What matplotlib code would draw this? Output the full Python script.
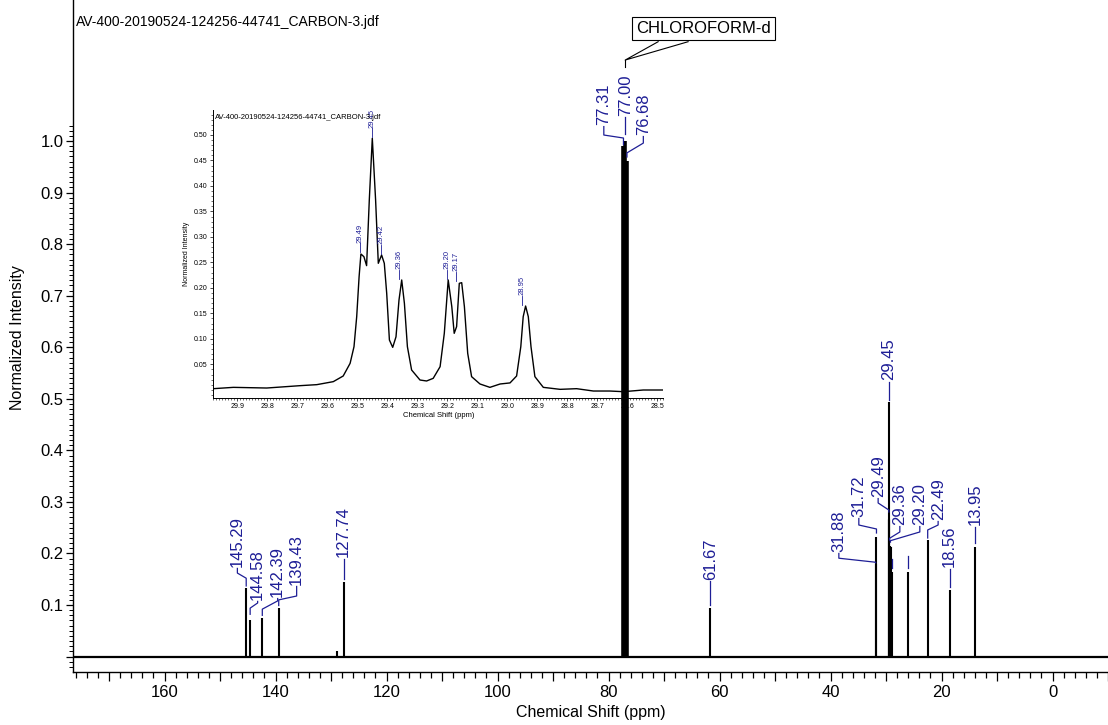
import matplotlib
matplotlib.use('Agg')
import matplotlib.pyplot as plt
import numpy as np
from matplotlib.ticker import MultipleLocator, FixedLocator, FuncFormatter

plt.rcParams['font.family'] = ['Liberation Sans', 'DejaVu Sans']

# ---------------- data ----------------
title = "AV-400-20190524-124256-44741_CARBON-3.jdf"
solvent_name = "CHLOROFORM-d"

# main 13C peaks (ppm, normalized intensity)
main_ppm = [145.29, 144.58, 142.39, 139.43, 128.90, 127.74, 61.67, 31.88, 31.72,
            29.49, 29.45, 29.42, 29.36, 29.20, 29.17, 28.95, 26.02, 22.49, 18.56, 13.95]
main_int = [0.133, 0.071, 0.075, 0.094, 0.010, 0.145, 0.095, 0.180, 0.232,
            0.267, 0.493, 0.264, 0.215, 0.215, 0.212, 0.165, 0.165, 0.226, 0.129, 0.213]

# solvent triplet
solvent_ppm = [77.31, 77.00, 76.68]
solvent_int = [0.990, 1.000, 0.962]

# inset trace (read from the zoomed region 29.98 - 28.48 ppm)
inset_ppm = [29.980, 29.913, 29.802, 29.691, 29.635, 29.580, 29.547, 29.524, 29.511, 29.502,
             29.494, 29.488, 29.478, 29.469, 29.460, 29.450, 29.439, 29.430, 29.419, 29.410,
             29.402, 29.393, 29.382, 29.371, 29.361, 29.352, 29.343, 29.333, 29.319, 29.291,
             29.269, 29.247, 29.224, 29.210, 29.197, 29.185, 29.177, 29.169, 29.160, 29.152,
             29.143, 29.132, 29.119, 29.091, 29.058, 29.024, 28.991, 28.969, 28.955, 28.947,
             28.939, 28.930, 28.921, 28.908, 28.880, 28.824, 28.769, 28.713, 28.658, 28.613,
             28.547, 28.480]
inset_int = [0.0022, 0.0048, 0.0035, 0.0081, 0.0101, 0.0160, 0.0271, 0.0519, 0.0846, 0.1435,
             0.2220, 0.2665, 0.2612, 0.2436, 0.3725, 0.4935, 0.3725, 0.2482, 0.2645, 0.2482,
             0.1893, 0.0977, 0.0833, 0.1040, 0.1762, 0.2155, 0.1697, 0.0846, 0.0389, 0.0192,
             0.0173, 0.0225, 0.0454, 0.1108, 0.2155, 0.1631, 0.1108, 0.1239, 0.2089, 0.2102,
             0.1631, 0.0716, 0.0258, 0.0114, 0.0048, 0.0114, 0.0135, 0.0271, 0.0846, 0.1435,
             0.1644, 0.1435, 0.0846, 0.0258, 0.0048, 0.0009, 0.0022, -0.0024, -0.0024, -0.0037,
             -0.0004, -0.0004]

inset_peak_ppm = [29.49, 29.45, 29.42, 29.36, 29.20, 29.17, 28.95]
inset_peak_int = [0.268, 0.4935, 0.2645, 0.2155, 0.2155, 0.212, 0.1645]

# label layout for main peaks: ppm -> (label_x, leader_start, kink_low, kink_high, text_bottom)
main_labels = {
    145.29: (146.88, 0.137, 0.152, 0.162, 0.174),
    144.58: (143.23, 0.082, 0.094, 0.104, 0.110),
    142.39: (139.62, 0.080, 0.092, 0.108, 0.1156),
    139.43: (136.20, 0.099, 0.110, 0.1175, 0.139),
    127.74: (127.74, 0.151, 0.151, 0.151, 0.193),
    77.31: (80.85, 0.993, 1.0058, 1.0116, 1.031),
    77.00: (77.00, 1.013, 1.013, 1.013, 1.049),
    76.68: (73.73, 0.969, 0.977, 0.996, 1.0117),
    61.67: (61.67, 0.100, 0.100, 0.100, 0.149),
    31.88: (38.50, 0.182, 0.183, 0.1908, 0.203),
    31.72: (34.90, 0.2397, 0.2475, 0.2552, 0.2708),
    29.49: (31.42, 0.2804, 0.2843, 0.2979, 0.3095),
    29.45: (29.45, 0.4977, 0.4977, 0.4977, 0.5365),
    29.36: (27.51, 0.226, 0.2294, 0.2417, 0.2552),
    29.20: (23.91, 0.222, 0.2248, 0.2417, 0.2552),
    22.49: (20.61, 0.230, 0.2456, 0.2552, 0.265),
    18.56: (18.56, 0.135, 0.135, 0.135, 0.1738),
    13.95: (13.95, 0.2203, 0.2203, 0.2203, 0.2552),
}
# dashes without text
bare_dashes = {28.95: (0.172, 0.190), 26.02: (0.172, 0.195)}

BLUE = '#1e1e96'

# ---------------- figure ----------------
W, H = 1108, 725
fig = plt.figure(figsize=(W / 100, H / 100), dpi=100)
ax = fig.add_axes([73 / W, 53 / H, 1035 / W, 672 / H])
ax.set_xlim(176.5, -10)
ax.set_ylim(-0.0299, 1.2735)
for s in ['top', 'right']:
    ax.spines[s].set_visible(False)
ax.spines['left'].set_linewidth(1.0)
ax.spines['bottom'].set_linewidth(1.0)

# spectrum
ax.axhline(0, color='black', lw=1.6, zorder=3)
ax.vlines(main_ppm, 0, main_int, color='black', lw=1.5, zorder=3)
ax.vlines(solvent_ppm, 0, solvent_int, color='black', lw=2.6, zorder=3)

peak_lookup = dict(zip(main_ppm + solvent_ppm, main_int + solvent_int))
for p, (lx, y0, ylo, yhi, yt) in main_labels.items():
    ax.plot([p, p, lx, lx], [y0, ylo, yhi, yt - 0.003], color=BLUE, lw=0.9, zorder=4)
    ax.text(lx, yt, f"{p:.2f}", rotation=90, ha='center', va='bottom',
            color=BLUE, fontsize=12, zorder=4)
for p, (y0, y1) in bare_dashes.items():
    ax.plot([p, p], [y0, y1], color=BLUE, lw=0.9, zorder=4)

# solvent callout
ax.text(62.95, 1.2186, solvent_name, ha='center', va='center', fontsize=12,
        bbox=dict(boxstyle='square,pad=0.25', fc='white', ec='black', lw=0.8), zorder=5)
ax.plot([71.06, 77.0, 65.66], [1.1926, 1.157, 1.1926], color='black', lw=0.8)
ax.plot([77.0, 77.0], [1.157, 1.1436], color='black', lw=0.8)

# ticks main
ax.xaxis.set_major_locator(MultipleLocator(10))
ax.xaxis.set_minor_locator(MultipleLocator(2))
ax.xaxis.set_major_formatter(FuncFormatter(
    lambda v, p: f"{int(round(v))}" if int(round(v)) % 20 == 0 else ""))
ax.tick_params(axis='x', which='major', length=6.5, width=0.9, labelsize=12, pad=3)
ax.tick_params(axis='x', which='minor', length=4.3, width=0.9)
ax.yaxis.set_major_locator(FixedLocator([i / 10 for i in range(11)]))
ax.yaxis.set_minor_locator(FixedLocator([i / 100 for i in range(-2, 104)]))
ax.yaxis.set_major_formatter(FuncFormatter(lambda v, p: "" if abs(v) < 1e-9 else f"{v:.1f}"))
ax.tick_params(axis='y', which='major', length=5, width=0.9, labelsize=12, pad=2)
ax.tick_params(axis='y', which='minor', length=3, width=0.7)

fig.text(590.5 / W, 1 - 713 / H, "Chemical Shift (ppm)", ha='center', va='center', fontsize=11.5)
fig.text(18 / W, 1 - 338 / H, "Normalized Intensity", ha='center', va='center',
         rotation=90, fontsize=11.5)
fig.text(76 / W, 1 - 22 / H, title, ha='left', va='center', fontsize=10)

# ---------------- inset ----------------
axi = fig.add_axes([213.3 / W, (H - 397.7) / H, 450 / W, 287.7 / H])
axi.set_zorder(1)
ax.set_zorder(2)
ax.patch.set_visible(False)
axi.patch.set_alpha(0)
axi.set_xlim(29.98, 28.48)
axi.set_ylim(-0.0155, 0.549)
for s in ['top', 'right']:
    axi.spines[s].set_visible(False)
axi.spines['left'].set_linewidth(0.7)
axi.spines['bottom'].set_linewidth(0.7)
axi.plot(inset_ppm, inset_int, color='black', lw=1.0)
for p, h in zip(inset_peak_ppm, inset_peak_int):
    axi.plot([p, p], [h + 0.002, h + 0.020], color=BLUE, lw=0.6, clip_on=False)
    axi.text(p, h + 0.021, f"{p:.2f}", rotation=90, ha='center', va='bottom',
             color=BLUE, fontsize=5.5, clip_on=False)
axi.xaxis.set_major_locator(MultipleLocator(0.1))
axi.xaxis.set_minor_locator(MultipleLocator(0.01))
axi.xaxis.set_major_formatter(FuncFormatter(lambda v, p: f"{v:.1f}"))
axi.yaxis.set_major_locator(FixedLocator([i / 100 for i in range(5, 55, 5)]))
axi.yaxis.set_minor_locator(FixedLocator([i / 100 for i in range(-1, 55)]))
axi.yaxis.set_major_formatter(FuncFormatter(lambda v, p: f"{v:.2f}"))
axi.tick_params(which='major', length=2.5, width=0.5, labelsize=5, pad=1.5)
axi.tick_params(which='minor', length=1.3, width=0.4)
axi.set_xlabel("Chemical Shift (ppm)", fontsize=5.5, labelpad=1)
axi.set_ylabel("Normalized Intensity", fontsize=5, labelpad=3)
axi.text(0.004, 0.975, title, transform=axi.transAxes, ha='left', va='center', fontsize=5.5)

fig.savefig('out.png', dpi=100)
